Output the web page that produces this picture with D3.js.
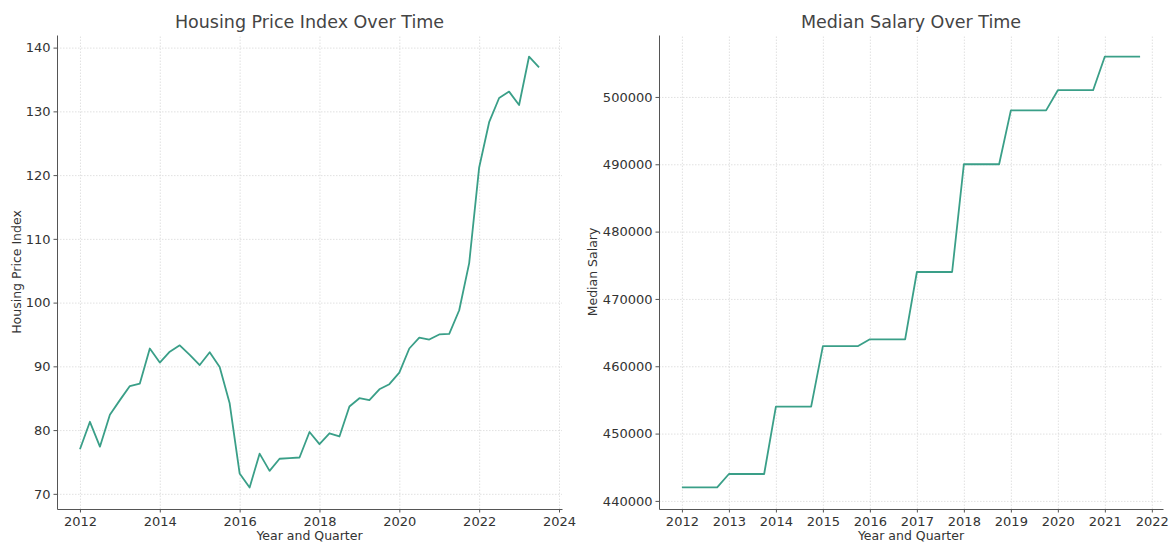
<!DOCTYPE html>
<html><head><meta charset="utf-8">
<script src="https://cdn.jsdelivr.net/npm/d3@7"></script>
<style>
body{margin:0;background:#fff;}
svg{display:block;font-family:"DejaVu Sans",sans-serif;}
.grid line{stroke:#d9d9d9;stroke-dasharray:1.5,1.5;stroke-width:0.8;}
.grid path{display:none;}
.axis path,.axis line{stroke:#555;}
.axis text{fill:#333;font-size:13px;font-family:"DejaVu Sans",sans-serif;}
</style></head>
<body>
<svg id="c" width="1171" height="542"></svg>
<script>
// Housing price index, quarterly 2012 Q1 – 2023 Q3
const housingQuarters = d3.range(47).map(i => 2012 + i * 0.25);
const housingIndex = [77.0,81.3,77.4,82.4,84.7,86.9,87.3,92.8,
  90.6,92.3,93.3,91.8,90.2,92.2,89.9,84.2,
  73.2,71.0,76.3,73.6,75.5,75.6,75.7,79.7,
  77.8,79.5,79.0,83.7,85.0,84.7,86.4,87.2,
  89.0,92.8,94.5,94.2,95.0,95.1,98.8,106.2,
  121.2,128.3,132.1,133.1,131.0,138.6,136.9];
// Median salary, quarterly 2012 Q1 – 2021 Q4
const salaryYears = [2012,2013,2014,2015,2016,2017,2018,2019,2020,2021];
const salaryByYear = [442000,444000,454000,463000,464000,474000,490000,498000,501000,506000];
const salaryQuarters = [];
const salaryValues = [];
salaryYears.forEach((y, i) => { for (let q = 0; q < 4; q++) { salaryQuarters.push(y + q * 0.25); salaryValues.push(salaryByYear[i]); } });

const housingXTicks = [2012,2014,2016,2018,2020,2022,2024];
const housingYTicks = [70,80,90,100,110,120,130,140];
const salaryXTicks = [2012,2013,2014,2015,2016,2017,2018,2019,2020,2021,2022];
const salaryYTicks = [440000,450000,460000,470000,480000,490000,500000];

const svg = d3.select("#c");
const lineColor = "#3a9f88";

function pad(ext){ const r = ext[1]-ext[0]; return [ext[0]-0.05*r, ext[1]+0.05*r]; }

function panel(o){
  const g = svg.append("g");
  const x = d3.scaleLinear().domain(pad(d3.extent(o.xs))).range([o.left, o.right]);
  const y = d3.scaleLinear().domain(pad(d3.extent(o.ys))).range([o.bottom, o.top]);
  g.append("g").attr("class","grid").attr("transform",`translate(0,${o.bottom})`)
    .call(d3.axisBottom(x).tickValues(o.xTicks).tickSize(-(o.bottom-o.top)).tickFormat(""));
  g.append("g").attr("class","grid").attr("transform",`translate(${o.left},0)`)
    .call(d3.axisLeft(y).tickValues(o.yTicks).tickSize(-(o.right-o.left)).tickFormat(""));
  const line = d3.line().x((d,i)=>x(o.xs[i])).y(d=>y(d));
  g.append("path").datum(o.ys).attr("d", line).attr("fill","none")
    .attr("stroke", lineColor).attr("stroke-width", 1.8).attr("stroke-linejoin","round");
  g.append("g").attr("class","axis").attr("transform",`translate(0,${o.bottom})`)
    .call(d3.axisBottom(x).tickValues(o.xTicks).tickFormat(d3.format("d")).tickSize(3.5).tickPadding(4).tickSizeOuter(0));
  g.append("g").attr("class","axis").attr("transform",`translate(${o.left},0)`)
    .call(d3.axisLeft(y).tickValues(o.yTicks).tickFormat(d3.format("d")).tickSize(3.5).tickPadding(3).tickSizeOuter(0));
  g.append("text").attr("x",(o.left+o.right)/2).attr("y",28).attr("text-anchor","middle")
    .attr("fill","#444").attr("font-size","17.5px").text(o.title);
  g.append("text").attr("x",(o.left+o.right)/2).attr("y",540).attr("text-anchor","middle")
    .attr("fill","#333").attr("font-size","12.5px").text(o.xLabel);
  g.append("text").attr("transform",`translate(${o.yLabelX},${(o.top+o.bottom)/2}) rotate(-90)`)
    .attr("text-anchor","middle").attr("fill","#333").attr("font-size","12.5px").text(o.yLabel);
}

panel({xs:housingQuarters, ys:housingIndex, left:57, right:562, top:35, bottom:509,
  xTicks:housingXTicks, yTicks:housingYTicks, title:"Housing Price Index Over Time",
  xLabel:"Year and Quarter", yLabel:"Housing Price Index", yLabelX:21});
panel({xs:salaryQuarters, ys:salaryValues, left:659, right:1163, top:35, bottom:509,
  xTicks:salaryXTicks, yTicks:salaryYTicks, title:"Median Salary Over Time",
  xLabel:"Year and Quarter", yLabel:"Median Salary", yLabelX:597});
</script>
</body></html>
